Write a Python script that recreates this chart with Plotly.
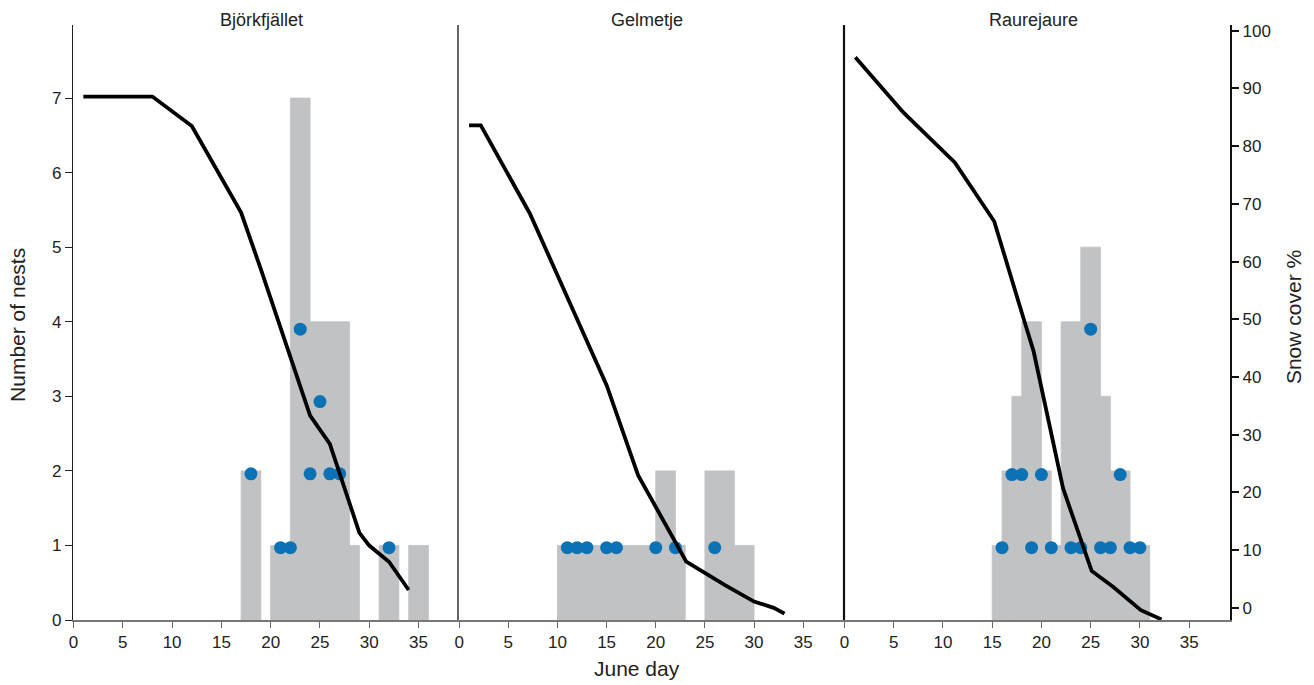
import plotly.graph_objects as go

# ---------------- data ----------------
sites = ["Björkfjället", "Gelmetje", "Raurejaure"]

# histogram bins (June day edges) and number of nests
bj_left = [17, 20, 22, 24, 28, 31, 34]
bj_right = [19, 22, 24, 28, 29, 33, 36]
bj_count = [2, 1, 7, 4, 1, 1, 1]

ge_left = [10, 20, 22, 25, 28]
ge_right = [20, 22, 23, 28, 30]
ge_count = [1, 2, 1, 2, 1]

ra_left = [15, 16, 17, 18, 20, 21, 22, 24, 26, 27, 29]
ra_right = [16, 17, 18, 20, 21, 22, 24, 26, 27, 29, 31]
ra_count = [1, 2, 3, 4, 2, 1, 4, 5, 3, 2, 1]

# individual nest points (June day, count level)
bj_dot_day = [18, 21, 22, 23, 24, 25, 26, 27, 32]
bj_dot_val = [1.96, 0.97, 0.97, 3.9, 1.96, 2.93, 1.96, 1.96, 0.97]

ge_dot_day = [11, 12, 13, 15, 16, 20, 22, 26]
ge_dot_val = [0.97, 0.97, 0.97, 0.97, 0.97, 0.97, 0.97, 0.97]

ra_dot_day = [16, 17, 18, 19, 20, 21, 23, 24, 25, 26, 27, 28, 29, 30]
ra_dot_val = [0.97, 1.95, 1.95, 0.97, 1.95, 0.97, 0.97, 0.97, 3.9, 0.97, 0.97, 1.95, 0.97, 0.97]

# snow cover (%) by June day
bj_snow_day = [1, 8, 12, 17, 19, 24, 26, 29, 30, 32, 34]
bj_snow = [88.6, 88.6, 83.5, 68.5, 58.7, 33.3, 28.4, 13.0, 10.8, 8.0, 3.1]

ge_snow_day = [1, 2.2, 7.2, 15, 18.2, 23.1, 27, 30, 32, 33.1]
ge_snow = [83.6, 83.6, 68.3, 38.6, 23.0, 8.0, 4.0, 1.1, 0.0, -1.0]

ra_snow_day = [1.1, 6, 11.2, 15.2, 18.3, 19.2, 22.2, 25.1, 27.3, 30.1, 32.2]
ra_snow = [95.4, 85.8, 77.2, 67.0, 49.5, 44.5, 20.7, 6.4, 3.6, -0.4, -2.0]

x_ticks = [0, 5, 10, 15, 20, 25, 30, 35]
nest_ticks = [0, 1, 2, 3, 4, 5, 6, 7]
snow_ticks = [0, 10, 20, 30, 40, 50, 60, 70, 80, 90, 100]

# ---------------- styles ----------------
BAR = "#C1C2C4"
DOT = "#0B72B5"
FONT = "Liberation Sans, Arial, sans-serif"

panels = [
    ("x", bj_left, bj_right, bj_count, bj_dot_day, bj_dot_val, bj_snow_day, bj_snow),
    ("x2", ge_left, ge_right, ge_count, ge_dot_day, ge_dot_val, ge_snow_day, ge_snow),
    ("x3", ra_left, ra_right, ra_count, ra_dot_day, ra_dot_val, ra_snow_day, ra_snow),
]

fig = go.Figure()
for xa, L, R, C, dd, dv, sd, sv in panels:
    fig.add_trace(go.Bar(
        x=[(l + r) / 2 for l, r in zip(L, R)],
        width=[r - l for l, r in zip(L, R)],
        y=C, marker=dict(color=BAR, line=dict(width=0.8, color=BAR)),
        xaxis=xa, yaxis="y", showlegend=False, hoverinfo="skip"))
for xa, L, R, C, dd, dv, sd, sv in panels:
    fig.add_trace(go.Scatter(
        x=sd, y=sv, mode="lines", line=dict(color="black", width=3.8),
        xaxis=xa, yaxis="y2", showlegend=False, hoverinfo="skip"))
for xa, L, R, C, dd, dv, sd, sv in panels:
    fig.add_trace(go.Scatter(
        x=dd, y=dv, mode="markers",
        marker=dict(color=DOT, size=13, line=dict(width=0)),
        xaxis=xa, yaxis="y", showlegend=False, hoverinfo="skip"))

W = 1157.0
d1 = [0, 385 / W]
d2 = [385 / W, 771 / W]
d3 = [771 / W, 1]

xcommon = dict(
    tickvals=x_ticks, ticks="outside", ticklen=6, tickcolor="#666", tickwidth=1.2,
    showline=True, linecolor="#777", linewidth=1.5, showgrid=False, zeroline=False,
    tickfont=dict(family=FONT, size=17, color="#222"), fixedrange=True,
)

fig.update_layout(
    width=1314, height=685,
    margin=dict(l=73, r=84, t=25, b=65, pad=0),
    paper_bgcolor="white", plot_bgcolor="white",
    barmode="overlay",
    font=dict(family=FONT, color="#222"),
    xaxis=dict(domain=d1, range=[-0.05, 39.0], anchor="y", **xcommon),
    xaxis2=dict(domain=d2, range=[-0.12, 39.15], anchor="y", **xcommon),
    xaxis3=dict(domain=d3, range=[-0.05, 39.15], anchor="y", **xcommon),
    yaxis=dict(range=[0, 7.98], tickvals=nest_ticks, ticks="outside", ticklen=7,
               tickcolor="#222", showline=True, linecolor="#222", linewidth=1.3,
               showgrid=False, zeroline=False, anchor="x",
               tickfont=dict(family=FONT, size=17, color="#222")),
    yaxis2=dict(range=[-2.1, 101], tickvals=snow_ticks, ticks="outside", ticklen=7,
                tickcolor="#111", tickwidth=1.5, showline=True, linecolor="#111", linewidth=2.2,
                showgrid=False, zeroline=False, overlaying="y", side="right", anchor="x3",
                tickfont=dict(family=FONT, size=17, color="#222")),
    shapes=[
        dict(type="line", xref="x2 domain", yref="paper", x0=0, x1=0, y0=0, y1=1,
             line=dict(color="#111", width=1.3)),
        dict(type="line", xref="x3 domain", yref="paper", x0=0, x1=0, y0=0, y1=1,
             line=dict(color="#111", width=2.2)),
    ],
)

annotations = []
for xa, name in zip(["x", "x2", "x3"], sites):
    annotations.append(dict(text=name, xref=f"{xa} domain", yref="paper", x=0.49, y=1.0084,
                            xanchor="center", yanchor="middle", showarrow=False,
                            font=dict(family=FONT, size=18, color="#222")))
annotations += [
    dict(text="June day", xref="paper", yref="paper", x=0.4875, y=-0.0807,
         xanchor="center", yanchor="middle", showarrow=False,
         font=dict(family=FONT, size=21, color="#222")),
    dict(text="Number of nests", xref="paper", yref="paper", x=-0.0475, y=0.496,
         xanchor="center", yanchor="middle", showarrow=False, textangle=-90,
         font=dict(family=FONT, size=21, color="#222")),
    dict(text="Snow cover %", xref="paper", yref="paper", x=1.0544, y=0.509,
         xanchor="center", yanchor="middle", showarrow=False, textangle=-90,
         font=dict(family=FONT, size=21, color="#222")),
]
fig.update_layout(annotations=annotations)

fig.write_html("out.html")
